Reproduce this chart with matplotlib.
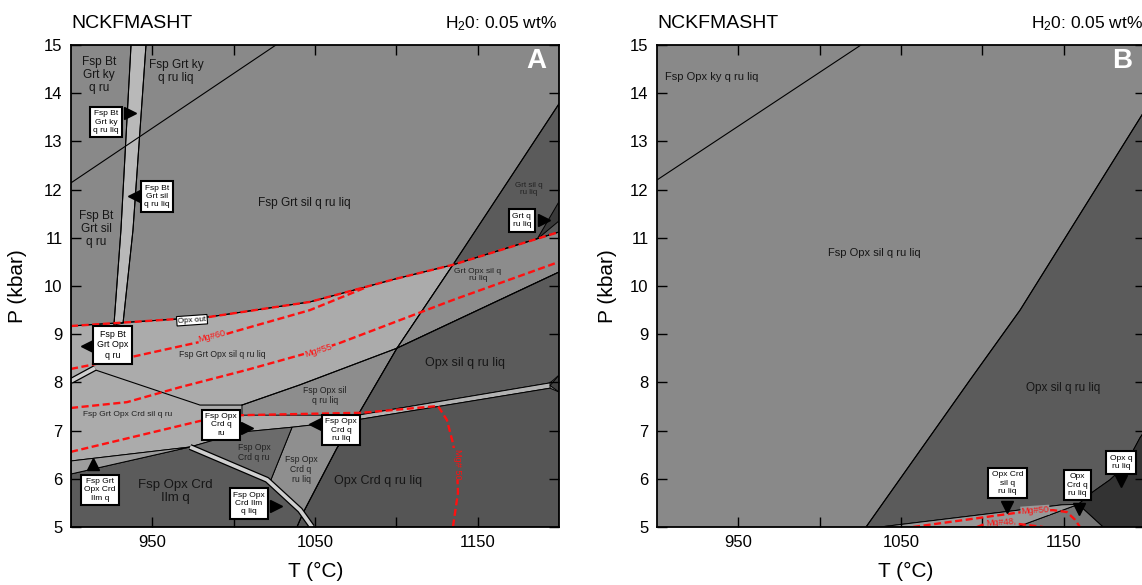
import matplotlib
matplotlib.use("Agg")
import matplotlib.pyplot as plt
from matplotlib.patches import Polygon
import numpy as np

plt.rcParams['font.family'] = ['Liberation Sans', 'DejaVu Sans']
plt.rcParams['mathtext.fontset'] = 'custom'
plt.rcParams['mathtext.rm'] = 'Liberation Sans'
plt.rcParams['mathtext.it'] = 'Liberation Sans:italic'

# ---------------- axes ----------------
T_LIM = (900, 1200)
P_LIM = (5, 15)
x_major = [950, 1050, 1150]
x_minor = [1000, 1100]
y_ticks = list(range(5, 16))

# ---------------- panel A: boundaries (T °C, P kbar) ----------------
ky_sil_T = [900, 1026]
ky_sil_P = [12.14, 15.0]
solidus_T = [936.9, 930.7, 926.4]
solidus_P = [15.0, 11.16, 9.19]
bt_out_T = [946.1, 938.1, 932.0]
bt_out_P = [15.0, 11.16, 9.23]
opx_out_T = [900, 985.4, 1046.9, 1099.8, 1134.8, 1200]
opx_out_P = [9.17, 9.36, 9.67, 10.15, 10.44, 11.12]
fsp_out_T = [1200, 1134.8, 1100.4, 1074.6, 1063.5, 1042.6, 1038.9]
fsp_out_P = [13.78, 10.44, 8.71, 7.22, 6.64, 5.29, 5.0]
grt_out_T = [1005.1, 1040.8, 1100.4, 1200]
grt_out_P = [7.53, 7.95, 8.71, 10.29]
crd_in_T = [914.8, 979.3, 1005.1]
crd_in_P = [8.26, 7.53, 7.53]
ilm_liq_T = [973.2, 1020.5, 1040.8, 1048.2]
ilm_liq_P = [6.66, 5.98, 5.35, 5.0]
bt_opx_T = [900, 914.8]
bt_opx_P = [8.03, 8.30]

# Mg# isopleths of orthopyroxene
mg60_T = [900, 937.5, 979.3, 1000, 1046.9, 1082]
mg60_P = [8.28, 8.53, 8.84, 9.05, 9.50, 9.98]
mg55_T = [900, 934.4, 967.0, 1008.2, 1051.8, 1065.4, 1134.8, 1200]
mg55_P = [7.47, 7.59, 7.90, 8.26, 8.67, 8.82, 9.71, 10.50]
mg50_T = [900, 979.3, 1005.1, 1078.9, 1125.6, 1131.1, 1134.8, 1137.3, 1137.9, 1134.8]
mg50_P = [6.56, 7.20, 7.32, 7.37, 7.51, 7.22, 6.74, 6.24, 5.71, 5.0]

# ---------------- panel A: fields ----------------
fa_light_T = [900, 985.4, 1046.9, 1099.8, 1134.8, 1100.4, 1074.6, 1035.9, 1005.1, 973.2, 900]
fa_light_P = [9.17, 9.36, 9.67, 10.15, 10.44, 8.71, 7.22, 7.07, 6.97, 6.66, 6.37]
fa_fsp_opx_sil_T = [1005.1, 1040.8, 1100.4, 1076.4, 1005.1]
fa_fsp_opx_sil_P = [7.53, 7.95, 8.71, 7.32, 7.32]
fa_bt_liq_T = [936.9, 930.7, 926.4, 932.0, 938.1, 946.1]
fa_bt_liq_P = [15.0, 11.16, 9.19, 9.23, 11.16, 15.0]
fa_grt_sil_T = [1134.8, 1200, 1200]
fa_grt_sil_P = [10.44, 13.78, 11.12]
fa_grt_q_T = [1186.5, 1200, 1200]
fa_grt_q_P = [10.97, 11.75, 11.35]
fa_grt_opx_sil_T = [1134.8, 1200, 1200, 1100.4]
fa_grt_opx_sil_P = [10.44, 11.12, 10.29, 8.71]
fa_opx_sil_T = [1100.4, 1200, 1200, 1194.5, 1076.4]
fa_opx_sil_P = [8.71, 10.29, 8.15, 7.99, 7.32]
fa_crd_band_T = [1076.4, 1194.5, 1194.5, 1075.2]
fa_crd_band_P = [7.32, 7.99, 7.88, 7.22]
fa_edge_T = [1194.5, 1200, 1200]
fa_edge_P = [7.935, 8.15, 7.80]
fa_opx_crd_T = [1075.2, 1194.5, 1200, 1200, 1038.9, 1042.6, 1063.5]
fa_opx_crd_P = [7.22, 7.88, 7.80, 5.0, 5.0, 5.29, 6.64]
fa_ilm_T = [900, 973.2, 1022.3, 1042.6, 1038.9, 900]
fa_ilm_P = [6.10, 6.66, 5.93, 5.29, 5.0, 5.0]
fa_fsp_crd_liq_T = [1022.3, 1035.9, 1075.2, 1063.5, 1042.6]
fa_fsp_crd_liq_P = [5.93, 7.07, 7.22, 6.64, 5.29]
fa_fsp_crd_T = [973.2, 1005.1, 1035.9, 1022.3]
fa_fsp_crd_P = [6.66, 6.97, 7.07, 5.93]
fa_grt_ilm_T = [900, 973.2, 900]
fa_grt_ilm_P = [6.37, 6.66, 6.10]

# ---------------- panel B ----------------
kyb_T = [900, 1025.4]
kyb_P = [12.20, 15.0]
fspb_out_T = [1028.5, 1092.4, 1123.2, 1200]
fspb_out_P = [5.0, 8.05, 9.50, 13.65]
fb_opx_sil_T = [1028.5, 1092.4, 1123.2, 1200, 1200, 1196.9, 1187.7, 1178.5, 1168.0, 1159.0, 1149.0, 1037.1]
fb_opx_sil_P = [5.0, 8.05, 9.50, 13.65, 7.0, 6.85, 6.27, 5.98, 5.73, 5.47, 5.46, 5.0]
fb_opx_q_T = [1159.0, 1168.0, 1178.5, 1187.7, 1196.9, 1200, 1200, 1174.2]
fb_opx_q_P = [5.47, 5.73, 5.98, 6.27, 6.85, 7.0, 5.0, 5.0]
fb_opx_crd_T = [1159.0, 1174.2, 1121.3]
fb_opx_crd_P = [5.47, 5.0, 5.0]
fb_opx_crd_sil_T = [1037.1, 1149.0, 1159.0, 1121.3]
fb_opx_crd_sil_P = [5.0, 5.46, 5.47, 5.0]
mgb50_T = [1057.4, 1124.4, 1143.4, 1152.0, 1157.0, 1160.0]
mgb50_P = [5.0, 5.31, 5.35, 5.31, 5.15, 5.0]
mgb48_T = [1096.7, 1102.8, 1123.2, 1137.3]
mgb48_P = [5.0, 5.08, 5.06, 5.0]

C_MID = '#898989'
C_LIGHT = '#ababab'
C_STRIP = '#b9b9b9'
C_DARK = '#5b5b5b'
C_DARKER = '#555555'

fig = plt.figure(figsize=(11.42, 5.85), dpi=100)
axA = fig.add_axes([71 / 1142, 1 - 527 / 585, 488 / 1142, 482 / 585])
axB = fig.add_axes([657 / 1142, 1 - 527 / 585, 488 / 1142, 482 / 585])


def field(ax, T, P, color):
    ax.add_patch(Polygon(np.column_stack([T, P]), closed=True, fc=color,
                         ec='black', lw=0.7, zorder=1))


def line(ax, T, P):
    ax.plot(T, P, color='black', lw=0.8, zorder=2)


def double_line(ax, T, P):
    ax.plot(T, P, color='black', lw=4.4, solid_capstyle='butt', zorder=2.2)
    ax.plot(T, P, color='#cfcfcf', lw=2.6, solid_capstyle='butt', zorder=2.3)


def isopleth(ax, T, P):
    ax.plot(T, P, color='#ff1010', lw=1.7, ls=(0, (3, 1.5)), zorder=3)


def red_label(ax, T, P, s, rot, bg):
    ax.text(T, P, s, color='#ff1010', fontsize=6.6, rotation=rot, ha='center',
            va='center', rotation_mode='anchor', zorder=3.5,
            bbox=dict(boxstyle='square,pad=0.05', fc=bg, ec='none'))


def field_label(ax, T, P, s, size, color='#161616', ha='center'):
    ax.text(T, P, s, fontsize=size, color=color, ha=ha, va='center',
            linespacing=1.15, zorder=4)


def boxed(ax, T, P, s, aT, aP, marker, size=6.0):
    ax.plot(aT, aP, marker=marker, ms=8, color='black', mec='black', zorder=5)
    ax.text(T, P, s, fontsize=size, ha='center', va='center', linespacing=1.25,
            zorder=6, bbox=dict(boxstyle='square,pad=0.42', fc='white',
                                ec='black', lw=1.5))


for ax in (axA, axB):
    ax.set_xlim(*T_LIM)
    ax.set_ylim(*P_LIM)
    ax.set_facecolor(C_MID)
    ax.set_xticks(x_major)
    ax.set_xticks(x_minor, minor=True)
    ax.set_yticks(y_ticks)
    ax.tick_params(which='both', direction='in', length=7, width=1.0,
                   top=True, right=True, labelsize=12, pad=6)
    for sp in ax.spines.values():
        sp.set_linewidth(1.3)
        sp.set_zorder(10)
    ax.text(0.0, 1.035, 'NCKFMASHT', transform=ax.transAxes, ha='left',
            va='baseline', fontsize=14)
    ax.text(0.996, 1.035, 'H$_2$0: 0.05 wt%', transform=ax.transAxes,
            ha='right', va='baseline', fontsize=12.5)

# ---- panel A fields
field(axA, fa_light_T, fa_light_P, C_LIGHT)
field(axA, fa_fsp_opx_sil_T, fa_fsp_opx_sil_P, '#8d8d8d')
field(axA, fa_bt_liq_T, fa_bt_liq_P, C_STRIP)
field(axA, fa_grt_sil_T, fa_grt_sil_P, C_DARK)
field(axA, fa_grt_q_T, fa_grt_q_P, '#3a3a3a')
field(axA, fa_grt_opx_sil_T, fa_grt_opx_sil_P, '#8c8c8c')
field(axA, fa_opx_sil_T, fa_opx_sil_P, C_DARK)
field(axA, fa_crd_band_T, fa_crd_band_P, '#b3b3b3')
field(axA, fa_edge_T, fa_edge_P, '#444444')
field(axA, fa_opx_crd_T, fa_opx_crd_P, C_DARKER)
field(axA, fa_ilm_T, fa_ilm_P, C_DARK)
field(axA, fa_fsp_crd_liq_T, fa_fsp_crd_liq_P, '#8f8f8f')
field(axA, fa_fsp_crd_T, fa_fsp_crd_P, '#6b6b6b')
field(axA, fa_grt_ilm_T, fa_grt_ilm_P, '#9d9d9d')

for T, P in [(ky_sil_T, ky_sil_P), (solidus_T, solidus_P), (bt_out_T, bt_out_P),
             (opx_out_T, opx_out_P), (fsp_out_T, fsp_out_P), (grt_out_T, grt_out_P),
             (crd_in_T, crd_in_P)]:
    line(axA, T, P)
double_line(axA, ilm_liq_T, ilm_liq_P)
double_line(axA, bt_opx_T, bt_opx_P)

for T, P in [(opx_out_T, opx_out_P), (mg60_T, mg60_P), (mg55_T, mg55_P), (mg50_T, mg50_P)]:
    isopleth(axA, T, P)
red_label(axA, 986.7, 8.96, 'Mg#60', 14, C_LIGHT)
red_label(axA, 1051.8, 8.67, 'Mg#55', 17, C_LIGHT)
red_label(axA, 1137.3, 6.31, 'Mg# 50', -90, C_DARKER)

field_label(axA, 917.2, 14.38, 'Fsp Bt\nGrt ky\nq ru', 8.6)
field_label(axA, 964.5, 14.45, 'Fsp Grt ky\nq ru liq', 8.6)
field_label(axA, 915.4, 11.18, 'Fsp Bt\nGrt sil\nq ru', 8.6)
field_label(axA, 1043.2, 11.72, 'Fsp Grt sil q ru liq', 8.6)
field_label(axA, 1181.6, 12.01, 'Grt sil q\nru liq', 5.8, '#222222')
field_label(axA, 1150.2, 10.23, 'Grt Opx sil q\nru liq', 6.0, '#222222')
field_label(axA, 992.8, 8.57, 'Fsp Grt Opx sil q ru liq', 6.2, '#222222')
field_label(axA, 935.0, 7.34, 'Fsp Grt Opx Crd sil q ru', 6.0, '#222222')
field_label(axA, 1056.1, 7.72, 'Fsp Opx sil\nq ru liq', 6.2, '#222222')
field_label(axA, 1142.2, 8.40, 'Opx sil q ru liq', 9.0)
field_label(axA, 1012.5, 6.54, 'Fsp Opx\nCrd q ru', 6.2, '#222222')
field_label(axA, 1041.4, 6.20, 'Fsp Opx\nCrd q\nru liq', 6.2, '#222222')
field_label(axA, 1088.7, 5.95, 'Opx Crd q ru liq', 9.0)
field_label(axA, 963.9, 5.73, 'Fsp Opx Crd\nIlm q', 9.5)

boxed(axA, 921.5, 13.40, 'Fsp Bt\nGrt ky\nq ru liq', 936.0, 13.59, '>')
boxed(axA, 952.9, 11.86, 'Fsp Bt\nGrt sil\nq ru liq', 938.7, 11.87, '<')
boxed(axA, 925.5, 8.78, 'Fsp Bt\nGrt Opx\nq ru', 909.8, 8.76, '<', 6.4)
boxed(axA, 1177.2, 11.36, 'Grt q\nru liq', 1191.0, 11.37, '>')
boxed(axA, 992.2, 7.12, 'Fsp Opx\nCrd q\nru', 1008.0, 7.05, '>')
boxed(axA, 1066.0, 7.01, 'Fsp Opx\nCrd q\nru liq', 1050.0, 7.14, '<')
boxed(axA, 917.8, 5.77, 'Fsp Grt\nOpx Crd\nIlm q', 913.5, 6.31, '^')
boxed(axA, 1009.4, 5.49, 'Fsp Opx\nCrd Ilm\nq liq', 1026.0, 5.44, '>')
axA.text(974.4, 9.29, 'Opx out', fontsize=5.8, ha='center', va='center', rotation=4,
         zorder=6, bbox=dict(boxstyle='square,pad=0.15', fc='white', ec='black', lw=0.8))

# ---- panel B fields
field(axB, fb_opx_sil_T, fb_opx_sil_P, C_DARK)
field(axB, fb_opx_q_T, fb_opx_q_P, '#333333')
field(axB, fb_opx_crd_T, fb_opx_crd_P, '#767676')
field(axB, fb_opx_crd_sil_T, fb_opx_crd_sil_P, '#999999')
line(axB, kyb_T, kyb_P)
line(axB, fspb_out_T, fspb_out_P)
isopleth(axB, mgb50_T, mgb50_P)
isopleth(axB, mgb48_T, mgb48_P)
red_label(axB, 1132.4, 5.34, 'Mg#50', 4, '#999999')
red_label(axB, 1110.9, 5.10, 'Mg#48', 4, '#999999')

field_label(axB, 904.9, 14.33, 'Fsp Opx ky q ru liq', 8.0, ha='left')
field_label(axB, 1033.6, 10.68, 'Fsp Opx sil q ru liq', 8.0)
field_label(axB, 1149.6, 7.88, 'Opx sil q ru liq', 8.5)
boxed(axB, 1115.5, 5.91, 'Opx Crd\nsil q\nru liq', 1115.2, 5.42, 'v')
boxed(axB, 1158.5, 5.87, 'Opx\nCrd q\nru liq', 1159.4, 5.38, 'v')
boxed(axB, 1185.2, 6.34, 'Opx q\nru liq', 1185.2, 5.96, 'v')

for ax, letter, tx, px in [(axA, 'A', 0.502, -0.109), (axB, 'B', 0.51, -0.102)]:
    ax.text(0.954, 0.966, letter, transform=ax.transAxes, color='white',
            fontsize=20, fontweight='bold', ha='center', va='center', zorder=8)
    ax.text(tx, -0.093, 'T (°C)', transform=ax.transAxes, ha='center',
            va='center', fontsize=15)
    ax.text(px, 0.5, 'P (kbar)', transform=ax.transAxes, ha='center',
            va='center', rotation=90, fontsize=15)

fig.savefig('out.png', dpi=100)
